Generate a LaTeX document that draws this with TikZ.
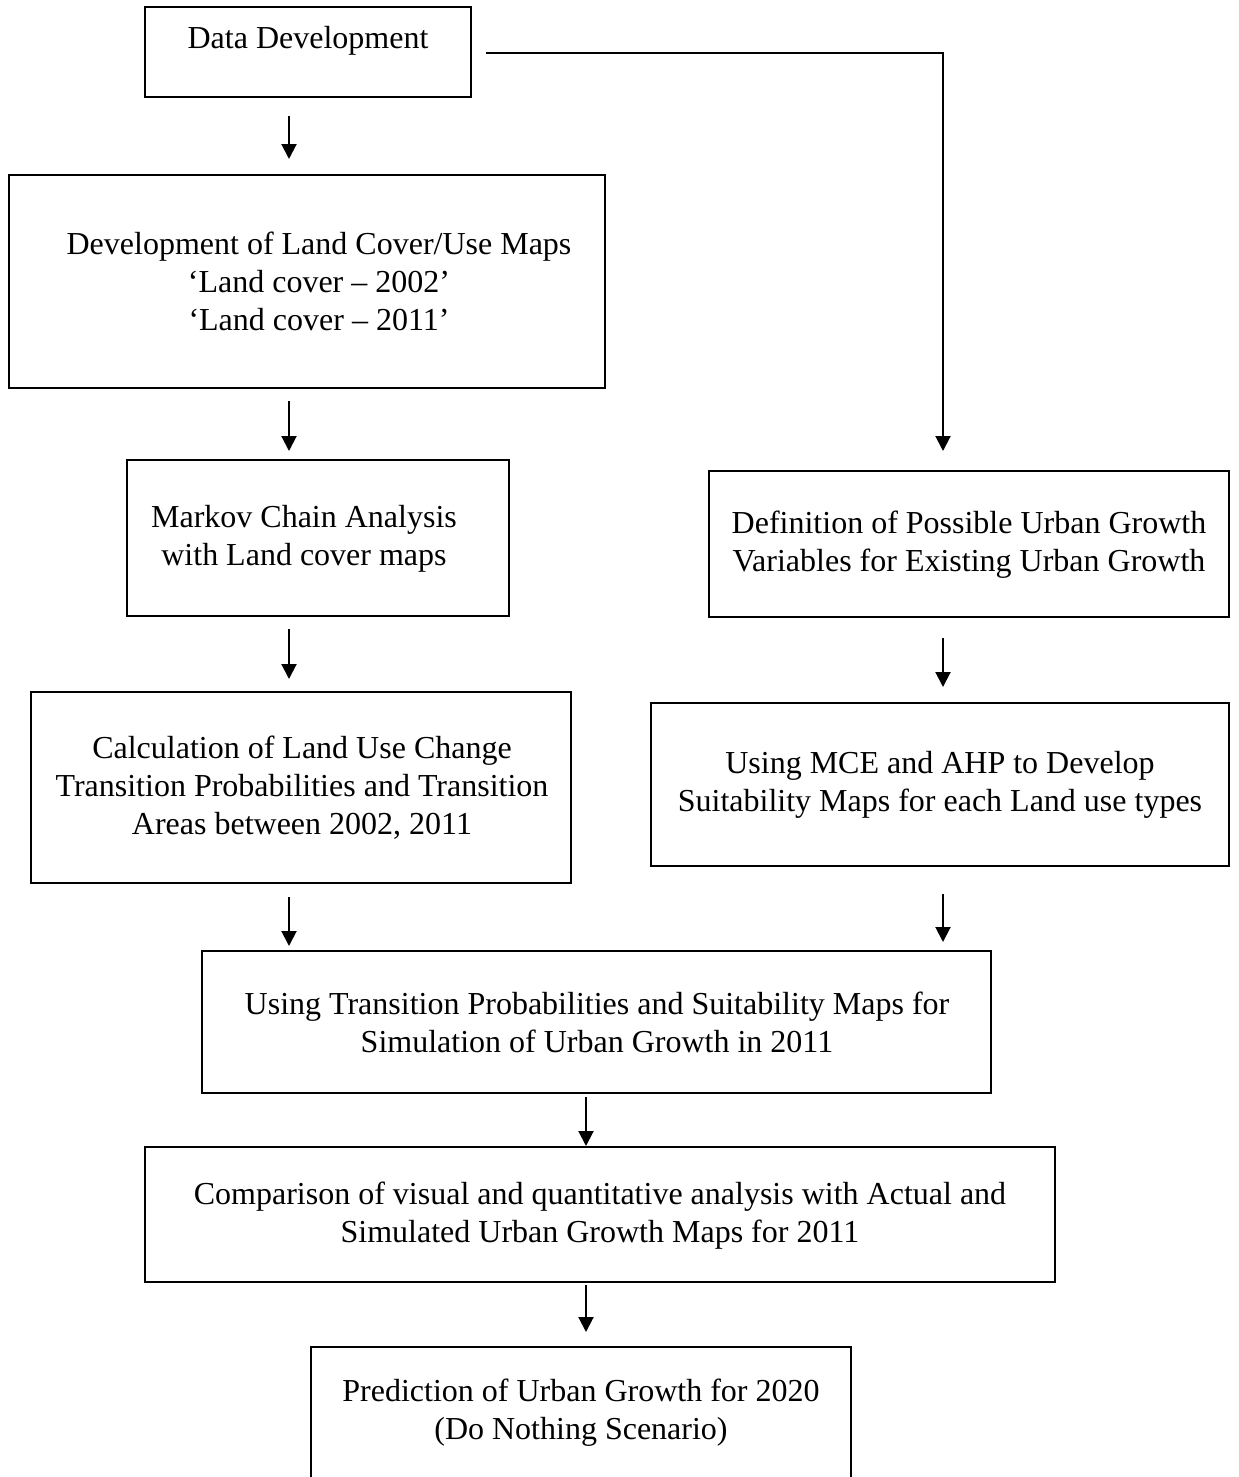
\documentclass[tikz,border=0pt]{standalone}
\usepackage{fontspec}
\setmainfont{Liberation Serif}
\usetikzlibrary{arrows.meta,fit}
\begin{document}
\begin{tikzpicture}[x=0.5pt,y=-0.5pt,
  box/.style={draw,line width=1pt,inner sep=0pt},
  txt/.style={align=center,font=\fontsize{16}{19}\selectfont,inner sep=0pt},
  arr/.style={line width=1pt,-{Triangle[length=7.5pt,width=7.5pt]}}]
\clip (0,0) rectangle (1238,1477);
\fill[white] (0,0) rectangle (1238,1477);

% column positions of the vertical connectors
\coordinate (colL) at (289,0);
\coordinate (colM) at (586,0);
\coordinate (colR) at (943,0);

% boxes
\node[box,fit={(145,7)(471,97)}] (b1) {};
\node[box,fit={(9,175)(605,388)}] (b2) {};
\node[box,fit={(127,460)(509,616)}] (b3) {};
\node[box,fit={(31,692)(571,883)}] (b4) {};
\node[box,fit={(709,471)(1229,617)}] (b5) {};
\node[box,fit={(651,703)(1229,866)}] (b6) {};
\node[box,fit={(202,951)(991,1093)}] (b7) {};
\node[box,fit={(145,1147)(1055,1282)}] (b8) {};
\node[box,fit={(311,1347)(851,1520)}] (b9) {};

% labels
\node[txt] (t1) at (308,41) {Data Development};
\node[txt] (t2) at (319,281) {Development of Land Cover/Use Maps\\‘Land cover – 2002’\\‘Land cover – 2011’};
\node[txt] (t3) at (304,539) {Markov Chain Analysis\\with Land cover maps};
\node[txt] (t4) at (302,788) {Calculation of Land Use Change\\Transition Probabilities and Transition\\Areas between 2002, 2011};
\node[txt] (t5) at (969,545) {Definition of Possible Urban Growth\\Variables for Existing Urban Growth};
\node[txt] (t6) at (940,785) {Using MCE and AHP to Develop\\Suitability Maps for each Land use types};
\node[txt] (t7) at (597,1022) {Using Transition Probabilities and Suitability Maps for\\Simulation of Urban Growth in 2011};
\node[txt] (t8) at (600,1216) {Comparison of visual and quantitative analysis with Actual and\\Simulated Urban Growth Maps for 2011};
\node[txt] (t9) at (581,1413) {Prediction of Urban Growth for 2020\\(Do Nothing Scenario)};

% connectors
\coordinate (split) at (486,53);
\draw[arr,shorten >=9.5pt] (split) -| (b5.north -| colR);

\draw[arr,shorten <=9pt,shorten >=7.5pt] (b1.south -| colL) -- (b2.north -| colL);
\draw[arr,shorten <=6pt,shorten >=4pt] (b2.south -| colL) -- (b3.north -| colL);
\draw[arr,shorten <=6pt,shorten >=6pt] (b3.south -| colL) -- (b4.north -| colL);
\draw[arr,shorten <=6.5pt,shorten >=2pt] (b4.south -| colL) -- (b7.north -| colL);

\draw[arr,shorten <=10pt,shorten >=7.5pt] (b5.south -| colR) -- (b6.north -| colR);
\draw[arr,shorten <=13.5pt,shorten >=4pt] (b6.south -| colR) -- (b7.north -| colR);

\draw[arr,shorten <=1.5pt] (b7.south -| colM) -- (b8.north -| colM);
\draw[arr,shorten <=1pt,shorten >=7pt] (b8.south -| colM) -- (b9.north -| colM);
\end{tikzpicture}
\end{document}
